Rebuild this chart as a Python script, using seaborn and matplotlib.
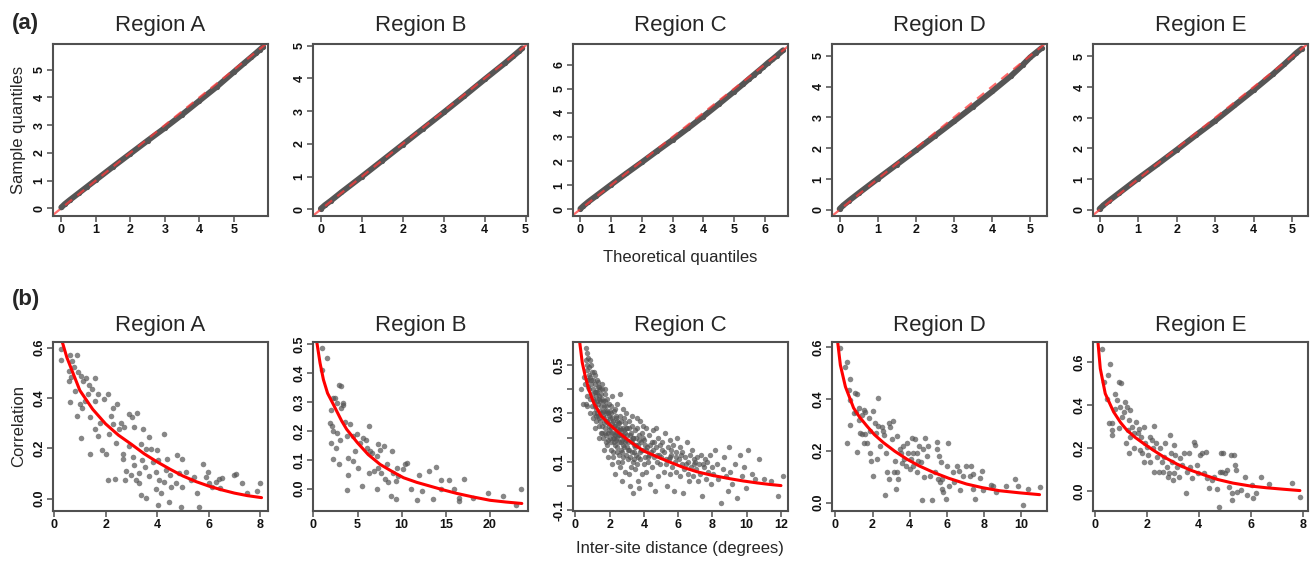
import matplotlib
matplotlib.use("Agg")
import matplotlib.pyplot as plt
import seaborn as sns
import pandas as pd

sns.set_theme(style="white")
plt.rcParams["font.family"] = ["Liberation Sans", "DejaVu Sans"]

regions = ["Region A", "Region B", "Region C", "Region D", "Region E"]

# ---- (a) QQ plots: theoretical vs sample quantiles
qq_theo_A = [0, 0.1, 0.25, 0.5, 0.75, 1.0, 1.5, 2.0, 2.5, 3.0, 3.5, 4.0, 4.5, 5.0, 5.3, 5.5, 5.65, 5.75, 5.85]
qq_samp_A = [0.03, 0.15, 0.3, 0.54, 0.78, 1.02, 1.5, 1.97, 2.44, 2.9, 3.38, 3.88, 4.38, 4.92, 5.24, 5.45, 5.61, 5.72, 5.83]
qq_theo_B = [0, 0.1, 0.25, 0.5, 1, 1.5, 2, 2.5, 3, 3.5, 4, 4.5, 4.7, 4.85, 4.92]
qq_samp_B = [0.02, 0.13, 0.27, 0.52, 1.0, 1.49, 1.98, 2.47, 2.96, 3.46, 3.97, 4.47, 4.68, 4.84, 4.92]
qq_theo_C = [0, 0.1, 0.25, 0.5, 1, 1.5, 2, 2.5, 3, 3.5, 4, 4.5, 5, 5.3, 5.5, 5.65, 5.8, 5.95, 6.1, 6.25, 6.4, 6.6]
qq_samp_C = [0.02, 0.14, 0.3, 0.54, 1.02, 1.49, 1.95, 2.42, 2.88, 3.36, 3.85, 4.36, 4.88, 5.2, 5.42, 5.58, 5.74, 5.9, 6.07, 6.22, 6.38, 6.6]
qq_theo_D = [0, 0.1, 0.25, 0.5, 1, 1.5, 2, 2.5, 3, 3.5, 4, 4.5, 4.8, 5.0, 5.15, 5.3]
qq_samp_D = [0.03, 0.15, 0.3, 0.54, 1.01, 1.47, 1.93, 2.4, 2.87, 3.35, 3.84, 4.35, 4.7, 4.95, 5.1, 5.25]
qq_theo_E = [0, 0.1, 0.25, 0.5, 1, 1.5, 2, 2.5, 3, 3.5, 4, 4.5, 4.8, 5.0, 5.1, 5.25]
qq_samp_E = [0.03, 0.15, 0.3, 0.54, 1.02, 1.48, 1.95, 2.43, 2.9, 3.4, 3.9, 4.42, 4.75, 4.98, 5.1, 5.25]

# ---- (b) correlation vs inter-site distance (points) and fitted curve
pts_A = [(0.28,0.596),(0.28,0.551),(0.63,0.571),(0.89,0.57),(0.71,0.547),(0.6,0.508),(0.76,0.524),
         (0.93,0.501),(0.58,0.468),(0.67,0.482),(1.05,0.488),(1.25,0.48),(1.57,0.478),(1.12,0.468),
         (1.48,0.436),(0.82,0.429),(0.63,0.384),(0.99,0.376),(0.9,0.33),(1.1,0.36),(1.22,0.389),
         (1.31,0.416),(1.71,0.416),(2.11,0.416),(1.95,0.396),(1.58,0.389),(1.03,0.239),(1.41,0.324),
         (1.57,0.278),(1.41,0.179),(1.86,0.192),(2.02,0.179),(2.08,0.074),(2.38,0.079),(2.28,0.36),
         (2.43,0.374),(2.15,0.258),(2.28,0.297),(2.53,0.278),(2.73,0.284),(2.92,0.337),(3.02,0.324),
         (3.2,0.339),(3.11,0.284),(2.69,0.179),(2.66,0.159),(2.79,0.11),(2.76,0.074),(3.05,0.166),
         (3.11,0.133),(2.98,0.093),(3.3,0.103),(3.18,0.074),(3.37,0.218),(3.46,0.278),(3.56,0.199),
         (3.69,0.245),(3.41,0.153),(3.54,0.126),(3.28,0.061),(3.37,0.014),(3.56,0.001),(3.76,0.199),
         (3.82,0.146),(4.01,0.192),(4.05,0.153),(3.95,0.107),(4.08,0.074),(3.95,0.037),(4.14,0.021),
         (4.05,-0.026),(4.28,0.258),(4.4,0.159),(4.33,0.113),(4.27,0.067),(4.49,0.093),(4.53,0.047),
         (4.46,-0.012),(4.78,0.172),(4.95,0.159),(4.85,0.1),(4.72,0.061),(4.98,0.047),(4.91,-0.032),
         (5.11,0.107),(5.3,0.074),(5.43,0.087),(5.56,0.021),(5.62,-0.032),(5.78,0.136),(5.88,0.087),
         (5.98,0.107),(6.01,0.061),(6.14,0.047),(6.27,0.067),(6.39,0.08),(6.52,0.084),(6.97,0.093),
         (7.06,0.096),(7.29,0.061),(7.49,0.021),(7.87,0.032),(8.0,0.064),(6.43,0.041),(1.35,0.45),
         (1.8,0.3),(2.2,0.33),(2.6,0.3),(1.7,0.25),(2.4,0.22),(2.9,0.21),(3.7,0.09)]
pts_B = [(1.02,0.486),(1.51,0.452),(0.94,0.411),(2.26,0.314),(2.4,0.314),(2.94,0.36),(3.13,0.354),
         (3.32,0.297),(3.4,0.29),(2.64,0.297),(2.0,0.272),(1.89,0.228),(2.15,0.216),(2.64,0.193),
         (2.26,0.199),(2.0,0.159),(2.26,0.101),(2.57,0.141),(2.94,0.084),(3.02,0.17),(3.58,0.23),
         (4.15,0.222),(3.77,0.182),(4.45,0.182),(3.96,0.107),(3.96,0.049),(3.85,-0.005),(4.72,0.13),
         (4.53,0.095),(5.0,0.072),(5.28,0.159),(5.58,0.176),(5.47,0.009),(6.04,0.141),(6.34,0.216),
         (6.42,0.13),(6.6,0.122),(6.3,0.055),(6.87,0.061),(7.25,0.114),(7.36,0.156),(7.55,0.134),
         (7.36,0.072),(7.62,0.055),(7.25,-0.002),(8.04,0.147),(8.3,0.084),(8.11,0.034),(8.49,0.023),
         (8.87,0.13),(8.98,0.055),(8.75,-0.025),(9.36,-0.037),(9.43,0.072),(9.62,0.044),(9.36,0.026),
         (10.1,0.067),(10.4,0.087),(10.6,0.09),(11.0,-0.002),(11.7,-0.039),(12.0,0.047),(12.3,-0.008),
         (13.1,0.061),(13.5,-0.034),(13.9,0.076),(14.4,-0.002),(14.5,0.029),(15.4,0.029),(15.9,0.0),
         (16.5,-0.031),(16.5,-0.043),(17.0,0.034),(18.1,-0.033),(19.8,-0.016),(21.5,-0.025),
         (22.9,-0.057),(23.5,-0.002),(5.9,0.17),(4.9,0.19),(3.1,0.28)]
pts_C = [(0.32,0.40),(0.45,0.34),(0.5,0.45),(0.55,0.42),(0.6,0.57),(0.62,0.52),(0.65,0.48),(0.68,0.55),
         (0.7,0.5),(0.72,0.44),(0.75,0.53),(0.78,0.46),(0.8,0.40),(0.82,0.49),(0.85,0.36),(0.88,0.45),
         (0.9,0.42),(0.92,0.50),(0.95,0.38),(0.97,0.33),(0.6,0.34),(0.7,0.33),(0.85,0.30),(0.99,0.47),
         (0.65,0.37),
         (1.02,0.44),(1.05,0.40),(1.08,0.35),(1.1,0.30),(1.12,0.46),(1.15,0.42),(1.18,0.37),(1.2,0.32),
         (1.22,0.27),(1.25,0.44),(1.28,0.39),(1.3,0.34),(1.32,0.29),(1.35,0.25),(1.38,0.41),(1.4,0.36),
         (1.42,0.31),(1.45,0.27),(1.48,0.22),(1.5,0.38),(1.12,0.24),(1.3,0.43),(1.45,0.40),(1.2,0.39),
         (1.05,0.28),(1.4,0.20),(1.48,0.33),(1.35,0.37),(1.25,0.30),(1.15,0.33),
         (1.52,0.30),(1.55,0.25),(1.58,0.42),(1.6,0.35),(1.62,0.20),(1.65,0.28),(1.68,0.15),(1.7,0.38),
         (1.72,0.31),(1.75,0.24),(1.78,0.33),(1.8,0.18),(1.82,0.27),(1.85,0.36),(1.88,0.22),(1.9,0.30),
         (1.92,0.12),(1.95,0.25),(1.98,0.34),(2.0,0.20),(1.6,0.29),(1.7,0.22),(1.8,0.30),(1.9,0.26),
         (1.55,0.36),(1.66,0.33),(1.76,0.27),(1.86,0.17),(1.96,0.29),(1.75,0.40),
         (2.02,0.28),(2.05,0.15),(2.08,0.33),(2.1,0.24),(2.12,0.09),(2.15,0.37),(2.18,0.20),(2.2,0.27),
         (2.22,0.12),(2.25,0.31),(2.28,0.18),(2.3,0.25),(2.32,0.05),(2.35,0.22),(2.38,0.29),(2.4,0.14),
         (2.42,0.34),(2.45,0.20),(2.48,0.26),(2.5,0.10),(2.1,0.30),(2.2,0.22),(2.3,0.17),(2.4,0.24),
         (2.15,0.26),(2.25,0.20),(2.35,0.28),(2.45,0.16),(2.6,0.38),(2.05,0.22),
         (2.52,0.23),(2.55,0.18),(2.58,0.29),(2.6,0.08),(2.62,0.21),(2.65,0.15),(2.68,0.27),(2.7,0.02),
         (2.72,0.19),(2.75,0.24),(2.78,0.12),(2.8,0.32),(2.82,0.20),(2.85,0.16),(2.88,0.26),(2.9,0.06),
         (2.92,0.22),(2.95,0.13),(2.98,0.30),(2.55,0.26),(2.65,0.21),(2.75,0.17),(2.85,0.23),(2.95,0.19),
         (2.7,0.10),
         (3.02,0.24),(3.05,0.18),(3.08,0.11),(3.1,0.27),(3.15,0.15),(3.18,0.21),(3.2,0.00),(3.22,0.08),
         (3.25,0.19),(3.28,0.25),(3.3,0.14),(3.35,0.20),(3.38,-0.03),(3.4,0.11),(3.42,0.17),(3.45,0.23),
         (3.48,0.07),(3.12,0.05),(3.32,0.29),(3.5,0.16),
         (3.52,0.20),(3.55,0.13),(3.58,0.24),(3.6,0.09),(3.65,0.17),(3.68,0.02),(3.7,0.21),(3.75,0.14),
         (3.78,0.27),(3.8,0.11),(3.85,0.18),(3.88,0.05),(3.9,0.22),(3.95,0.15),(3.98,0.09),(3.62,0.28),
         (3.72,-0.01),(3.92,0.25),
         (4.02,0.19),(4.05,0.12),(4.1,0.24),(4.15,0.06),(4.2,0.16),(4.25,0.10),(4.3,0.21),(4.35,0.01),
         (4.4,0.14),(4.45,0.18),(4.5,0.08),(4.55,0.23),(4.6,0.12),(4.65,-0.02),(4.7,0.16),(4.75,0.10),
         (4.8,0.20),(4.85,0.04),(4.9,0.13),(4.95,0.17),(4.12,0.15),(4.32,0.13),(4.52,0.15),(4.72,0.24),
         (4.92,0.09),
         (5.02,0.12),(5.08,0.18),(5.15,0.06),(5.2,0.14),(5.25,0.22),(5.3,0.09),(5.35,0.00),(5.4,0.16),
         (5.45,0.11),(5.5,0.19),(5.55,0.05),(5.6,0.13),(5.65,0.08),(5.7,0.17),(5.75,-0.02),(5.8,0.10),
         (5.85,0.14),(5.9,0.06),(5.95,0.20),(5.5,0.12),
         (6.02,0.11),(6.08,0.16),(6.12,0.04),(6.2,0.09),(6.25,0.14),(6.3,-0.03),(6.35,0.07),(6.4,0.12),
         (6.5,0.18),(6.55,0.05),(6.6,0.10),(6.65,0.02),(6.7,0.13),(6.75,0.08),(6.8,0.15),(6.85,0.04),
         (6.9,0.09),(6.95,0.11),
         (7.02,0.07),(7.1,0.12),(7.15,0.02),(7.2,0.09),(7.3,0.05),(7.35,0.13),(7.4,-0.04),(7.5,0.08),
         (7.55,0.11),(7.6,0.03),(7.7,0.10),(7.75,0.06),(7.85,0.13),(7.9,0.01),(7.95,0.08),
         (8.05,0.05),(8.15,0.15),(8.25,0.09),(8.35,0.03),(8.5,-0.07),(8.6,0.07),(8.7,0.12),(8.8,0.04),
         (8.9,-0.02),(8.95,0.16),
         (9.05,0.06),(9.15,0.01),(9.3,0.09),(9.45,-0.05),(9.6,0.13),(9.7,0.04),(9.85,0.08),(9.95,-0.01),
         (10.1,0.15),(10.3,0.05),(10.5,0.03),(10.7,0.11),(11.0,0.03),(11.4,0.02),(11.8,-0.04),(12.1,0.04),
         (0.66,0.44),(0.74,0.41),(0.83,0.52),(0.93,0.44),(1.0,0.36),(1.06,0.47),(1.13,0.39),(1.19,0.29),
         (1.27,0.35),(1.33,0.41),(1.39,0.28),(1.46,0.35),(1.53,0.40),(1.57,0.22),(1.63,0.31),(1.69,0.26),
         (1.74,0.35),(1.79,0.21),(1.84,0.31),(1.91,0.19),(1.97,0.23),(2.03,0.31),(2.07,0.18),(2.13,0.28),
         (2.19,0.14),(2.24,0.25),(2.29,0.21),(2.34,0.32),(2.39,0.19),(2.44,0.27),(2.49,0.21),(2.54,0.13),
         (2.59,0.24),(2.64,0.18),(2.69,0.23),(2.74,0.14),(2.79,0.21),(2.84,0.28),(2.89,0.18),(2.94,0.24),
         (2.99,0.16),(3.04,0.21),(3.09,0.15),(3.14,0.24),(3.19,0.12),(3.24,0.22),(3.29,0.18),(3.34,0.10),
         (3.39,0.20),(3.44,0.14),(3.54,0.17),(3.64,0.12),(3.74,0.19),(3.84,0.15),(3.94,0.20),(4.08,0.17),
         (4.22,0.12),(4.38,0.17),(4.58,0.18),(4.78,0.13),(5.05,0.15),(5.28,0.11),(5.58,0.15),(5.88,0.12),
         (6.15,0.13),(6.45,0.09),(7.0,0.10),(7.45,0.09)]
pts_D = [(0.27,0.594),(0.54,0.524),(0.62,0.543),(0.8,0.475),(0.71,0.435),(0.8,0.397),(0.98,0.346),
         (1.07,0.422),(1.16,0.42),(1.25,0.364),(1.13,0.351),(1.25,0.319),(1.43,0.339),(1.52,0.358),
         (1.6,0.35),(0.62,0.231),(0.8,0.301),(1.16,0.196),(1.3,0.269),(1.43,0.263),(1.61,0.263),
         (1.52,0.231),(1.79,0.326),(1.7,0.231),(1.88,0.276),(1.88,0.193),(1.91,0.161),(2.02,0.352),
         (2.05,0.102),(2.14,0.307),(2.2,0.267),(2.32,0.295),(2.32,0.403),(2.23,0.168),(2.41,0.219),
         (2.5,0.29),(2.55,0.276),(2.6,0.26),(2.68,0.028),(2.73,0.193),(2.77,0.117),(2.86,0.307),
         (2.95,0.29),(2.86,0.092),(3.04,0.244),(3.09,0.314),(3.21,0.161),(3.16,0.117),(3.27,0.053),
         (3.3,0.257),(3.34,0.117),(3.39,0.092),(3.48,0.206),(3.52,0.193),(3.57,0.153),(3.66,0.219),
         (3.7,0.168),(3.8,0.142),(3.84,0.231),(3.93,0.193),(4.02,0.13),(4.05,0.168),(4.11,0.25),
         (4.16,0.193),(4.2,0.142),(4.29,0.247),(4.38,0.193),(4.38,0.117),(4.46,0.161),(4.52,0.219),
         (4.59,0.155),(4.64,0.009),(4.73,0.206),(4.79,0.098),(4.82,0.25),(4.91,0.18),(5.0,0.219),
         (5.09,0.104),(5.18,0.009),(5.36,0.117),(5.45,0.234),(5.48,0.206),(5.54,0.092),(5.59,0.18),
         (5.63,0.079),(5.66,0.155),(5.71,0.053),(5.75,0.092),(5.8,0.041),(5.95,0.015),(5.98,0.142),
         (6.07,0.231),(6.11,0.066),(6.34,0.117),(6.38,0.079),(6.52,0.142),(6.66,0.123),(6.7,0.047),
         (6.88,0.104),(7.05,0.142),(7.23,0.104),(7.32,0.14),(7.38,0.11),(7.41,0.051),(7.5,0.015),
         (7.77,0.094),(7.86,0.123),(7.95,0.047),(8.39,0.069),(8.48,0.064),(8.63,0.041),(9.16,0.066),
         (9.64,0.092),(9.82,0.066),(10.09,-0.01),(10.36,0.053),(10.98,0.06)]
pts_E = [(0.28,0.662),(0.35,0.507),(0.6,0.592),(0.5,0.538),(0.47,0.43),(0.54,0.314),(0.67,0.314),
         (0.67,0.283),(0.67,0.26),(0.79,0.453),(0.86,0.422),(0.79,0.383),(0.92,0.507),(1.01,0.5),
         (0.99,0.391),(1.05,0.345),(0.92,0.291),(1.14,0.368),(1.18,0.414),(1.24,0.391),(1.31,0.329),
         (1.37,0.376),(1.27,0.283),(1.35,0.252),(1.22,0.221),(1.31,0.175),(1.44,0.298),(1.5,0.268),
         (1.53,0.198),(1.6,0.322),(1.65,0.268),(1.69,0.29),(1.73,0.19),(1.78,0.252),(1.82,0.175),
         (1.91,0.298),(1.95,0.221),(1.88,0.136),(2.01,0.206),(2.04,0.167),(2.12,0.252),(2.14,0.136),
         (2.21,0.237),(2.24,0.198),(2.29,0.302),(2.29,0.09),(2.37,0.221),(2.4,0.159),(2.46,0.09),
         (2.5,0.198),(2.59,0.136),(2.63,0.09),(2.68,0.159),(2.72,0.221),(2.78,0.113),(2.81,0.066),
         (2.85,0.082),(2.91,0.26),(2.94,0.175),(2.97,0.136),(3.01,0.051),(3.04,0.213),(3.06,0.082),
         (3.1,0.167),(3.17,0.113),(3.23,0.066),(3.29,0.152),(3.36,0.121),(3.42,0.175),(3.49,-0.011),
         (3.55,0.09),(3.62,0.175),(3.68,0.113),(3.74,0.059),(3.81,0.229),(3.87,0.213),(3.94,0.121),
         (3.96,0.082),(4.04,0.167),(4.13,0.175),(4.19,0.082),(4.26,0.183),(4.32,0.059),(4.38,0.012),
         (4.51,0.051),(4.58,0.066),(4.71,0.008),(4.77,-0.073),(4.83,0.09),(4.86,0.175),(4.9,0.09),
         (4.94,0.175),(4.99,0.085),(5.09,0.097),(5.15,0.02),(5.22,0.167),(5.28,-0.011),(5.28,-0.042),
         (5.35,0.167),(5.38,0.121),(5.41,0.097),(5.47,-0.003),(5.6,0.005),(5.79,0.066),(5.86,-0.019),
         (6.05,0.028),(6.09,-0.034),(6.18,-0.008),(6.37,0.066),(6.69,0.032),(7.59,0.039),(7.88,-0.029)]

fit_x_A = [0.32, 0.5, 1.0, 1.5, 2.0, 2.5, 3.0, 3.5, 4.0, 4.5, 5.0, 5.5, 6.0, 6.5, 7.0, 7.5, 8.05]
fit_y_A = [0.622, 0.56, 0.43, 0.355, 0.297, 0.252, 0.216, 0.178, 0.146, 0.117, 0.09, 0.068, 0.05, 0.035, 0.022, 0.012, 0.004]
fit_x_B = [0.38, 0.75, 1.13, 1.6, 2.26, 3.2, 3.77, 4.98, 6.2, 7.55, 9.0, 10.2, 11.7, 13.2, 14.7, 16.2, 18.0, 20.0, 21.8, 23.6]
fit_y_B = [0.507, 0.434, 0.377, 0.33, 0.291, 0.234, 0.205, 0.159, 0.118, 0.084, 0.058, 0.038, 0.022, 0.009, -0.004, -0.016, -0.028, -0.04, -0.046, -0.051]
fit_x_C = [0.25, 0.4, 0.58, 0.8, 1.07, 1.5, 1.98, 2.5, 3.02, 3.5, 3.99, 4.8, 5.54, 6.3, 7.1, 8.0, 9.05, 9.8, 10.6, 11.3, 12.0]
fit_y_C = [0.595, 0.51, 0.452, 0.395, 0.343, 0.29, 0.255, 0.222, 0.193, 0.168, 0.145, 0.12, 0.098, 0.077, 0.059, 0.044, 0.03, 0.021, 0.013, 0.007, 0.002]
fit_x_D = [0.125, 0.27, 0.54, 0.98, 1.3, 1.7, 2.1, 2.59, 3.2, 3.84, 4.5, 5.27, 6.1, 7.05, 7.9, 8.84, 9.9, 10.98]
fit_y_D = [0.619, 0.53, 0.447, 0.365, 0.33, 0.295, 0.262, 0.231, 0.198, 0.168, 0.142, 0.117, 0.094, 0.072, 0.058, 0.046, 0.038, 0.031]
fit_x_E = [0.13, 0.22, 0.41, 0.73, 1.0, 1.24, 1.55, 1.88, 2.25, 2.65, 3.15, 3.68, 4.2, 4.71, 5.3, 5.99, 6.6, 7.27, 7.88]
fit_y_E = [0.693, 0.569, 0.453, 0.368, 0.318, 0.283, 0.25, 0.221, 0.19, 0.159, 0.126, 0.097, 0.075, 0.054, 0.037, 0.023, 0.015, 0.008, 0.002]

qq_theo = [qq_theo_A, qq_theo_B, qq_theo_C, qq_theo_D, qq_theo_E]
qq_samp = [qq_samp_A, qq_samp_B, qq_samp_C, qq_samp_D, qq_samp_E]
pts = [pts_A, pts_B, pts_C, pts_D, pts_E]
fit_x = [fit_x_A, fit_x_B, fit_x_C, fit_x_D, fit_x_E]
fit_y = [fit_y_A, fit_y_B, fit_y_C, fit_y_D, fit_y_E]

# axis setup (limits and ticks), R-style
qq_xlim = [(-0.24, 5.99), (-0.19, 5.06), (-0.24, 6.76), (-0.2, 5.44), (-0.17, 5.41)]
qq_ylim = [(-0.28, 5.93), (-0.2, 5.05), (-0.28, 6.86), (-0.2, 5.38), (-0.2, 5.4)]
qq_ticks = [range(0, 6), range(0, 6), range(0, 7), range(0, 6), range(0, 6)]
cor_xlim = [(-0.04, 8.3), (-0.05, 24.3), (-0.14, 12.41), (-0.18, 11.38), (-0.06, 8.19)]
cor_ylim = [(-0.049, 0.622), (-0.077, 0.507), (-0.103, 0.595), (-0.032, 0.619), (-0.093, 0.693)]
cor_xticks = [[0, 2, 4, 6, 8], [0, 5, 10, 15, 20], [0, 2, 4, 6, 8, 10, 12], [0, 2, 4, 6, 8, 10], [0, 2, 4, 6, 8]]
cor_yticks = [[0.0, 0.2, 0.4, 0.6], [0.0, 0.1, 0.2, 0.3, 0.4, 0.5],
              [-0.1, 0.0, 0.1, 0.2, 0.3, 0.4, 0.5], [0.0, 0.2, 0.4, 0.6], [0.0, 0.2, 0.4, 0.6]]
pt_size = [16, 16, 15, 16, 16]

fig = plt.figure(figsize=(13.14, 5.63), dpi=100)
W, H = 1314, 563
lefts = [53, 313, 573, 832, 1093]
frame = "#505050"


def style(ax):
    for s in ax.spines.values():
        s.set_color(frame)
        s.set_linewidth(1.5)
    ax.tick_params(direction="out", length=4, width=1.1, color=frame, labelsize=9,
                   labelcolor="#111111", pad=1.5, bottom=True, left=True)
    for lab in ax.get_xticklabels() + ax.get_yticklabels():
        lab.set_fontweight("semibold")
    for lab in ax.get_yticklabels():
        lab.set_rotation(90)
        lab.set_va("center")
    ax.set_xlabel("")
    ax.set_ylabel("")


for i in range(5):
    # row (a)
    ax = fig.add_axes([lefts[i] / W, 1 - 216 / H, 215 / W, 172 / H])
    qq = pd.DataFrame({"theo": qq_theo[i], "samp": qq_samp[i]})
    sns.lineplot(data=qq, x="theo", y="samp", ax=ax, color="#555555", linewidth=4.2, sort=False)
    sns.scatterplot(data=qq, x="theo", y="samp", ax=ax, color="#555555", s=14, linewidth=0)
    ax.axline((0, 0), slope=1, color="#ff3b3b", alpha=0.75, linestyle=(0, (4, 3)), linewidth=1.6)
    ax.set_xlim(*qq_xlim[i])
    ax.set_ylim(*qq_ylim[i])
    ax.set_xticks(list(qq_ticks[i]))
    ax.set_yticks(list(qq_ticks[i]))
    ax.set_title(regions[i], fontsize=16, pad=9)
    style(ax)

    # row (b)
    ax = fig.add_axes([lefts[i] / W, 1 - 511 / H, 215 / W, 169 / H])
    df = pd.DataFrame(pts[i], columns=["dist", "corr"])
    sns.scatterplot(data=df, x="dist", y="corr", ax=ax, color="#555555", alpha=0.7,
                    s=pt_size[i], linewidth=0)
    fit = pd.DataFrame({"dist": fit_x[i], "corr": fit_y[i]})
    sns.lineplot(data=fit, x="dist", y="corr", ax=ax, color="red", linewidth=2.2)
    ax.set_xlim(*cor_xlim[i])
    ax.set_ylim(*cor_ylim[i])
    ax.set_xticks(cor_xticks[i])
    ax.set_yticks(cor_yticks[i])
    if i == 2:
        ax.set_yticklabels(["-0.1", "", "0.1", "", "0.3", "", "0.5"])
    else:
        ax.set_yticklabels([f"{v:.1f}" for v in cor_yticks[i]])
    ax.set_title(regions[i], fontsize=16, pad=8)
    style(ax)

fig.text(12 / W, 1 - 24 / H, "(a)", fontsize=16, fontweight="bold", va="center")
fig.text(12 / W, 1 - 300 / H, "(b)", fontsize=16, fontweight="bold", va="center")
fig.text(19 / W, 1 - 130 / H, "Sample quantiles", fontsize=12, rotation=90, ha="center", va="center")
fig.text(19 / W, 1 - 426 / H, "Correlation", fontsize=12, rotation=90, ha="center", va="center")
fig.text(680 / W, 1 - 258 / H, "Theoretical quantiles", fontsize=12, ha="center", va="center")
fig.text(680 / W, 1 - 549 / H, "Inter-site distance (degrees)", fontsize=12, ha="center", va="center")

fig.savefig("out.png", dpi=100, facecolor="white")
